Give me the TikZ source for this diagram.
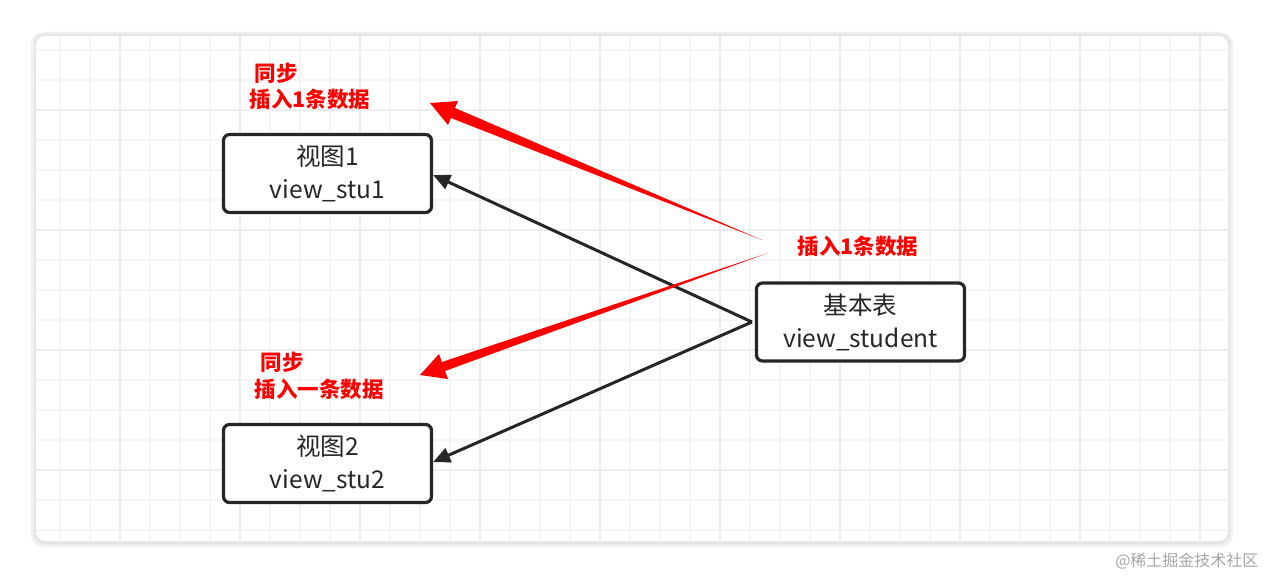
\documentclass[tikz,border=0pt]{standalone}
\usepackage{fontspec}
\setmainfont{Noto Sans CJK SC}
\usetikzlibrary{arrows.meta}
\begin{document}
\begin{tikzpicture}[x=1pt,y=-1pt,
  box/.style={draw=black!85,line width=3.2pt,rounded corners=6pt,minimum width=208pt,minimum height=78pt,align=center,font=\fontsize{24.5}{33}\selectfont,text=black!85,fill=white},
  lbl/.style={text=red,font=\fontsize{21.5}{28}\selectfont\bfseries,align=left,anchor=west},
  arr/.style={draw=black!85,line width=3pt,-{Triangle[length=17pt,width=15pt]}}]
\useasboundingbox (0,0) rectangle (1266,578);
\fill[white] (0,0) rectangle (1266,578);
\fill[black!6,rounded corners=12pt] (31,32) rectangle (1233,547);
\fill[black!10,rounded corners=10pt] (34,34) rectangle (1230,544);
\fill[white,rounded corners=9pt] (36,36) rectangle (1228,541);
\begin{scope}
\clip[rounded corners=9pt] (36,36) rectangle (1228,541);
\foreach \x in {60,90,...,1228} \draw[black!4,line width=1.5pt] (\x,36) -- (\x,541);
\foreach \y in {50,80,...,541} \draw[black!4,line width=1.5pt] (36,\y) -- (1228,\y);
\foreach \x in {0,120,...,1228} \draw[black!7,line width=2pt] (\x,36) -- (\x,541);
\foreach \y in {110,230,...,541} \draw[black!7,line width=2pt] (36,\y) -- (1228,\y);
\end{scope}
\node[box] (v1) at (327.5,173.5) {视图1\\view\_stu1};
\node[box] (v2) at (327.5,463.5) {视图2\\view\_stu2};
\node[box] (b) at (860.5,322) {基本表\\view\_student};
\coordinate (s) at (752,322);
\draw[arr] (s) -- (v1.east |- 0,175);
\draw[arr] (s) -- (v2.east |- 0,462);
\coordinate (r1) at (762,240);
\coordinate (r2) at (768,253);
\fill[red] (r1) -- (451,118) -- (448,125) -- (430,103) -- (458,101) -- (455,108) -- cycle;
\fill[red] (r2) -- (442,362) -- (439,354) -- (420,375) -- (448,379) -- (445,371) -- cycle;
\node[lbl] (t1) at (251,73) {同步};
\node[lbl] (t2) at (246,99) {插入1条数据};
\node[lbl] (t3) at (257,362) {同步};
\node[lbl] (t4) at (251,389) {插入一条数据};
\node[lbl] (t5) at (794,246) {插入1条数据};
\node[text=black!35,font=\fontsize{16}{18}\selectfont,anchor=east] (w) at (1262,561) {@稀土掘金技术社区};
\end{tikzpicture}
\end{document}
